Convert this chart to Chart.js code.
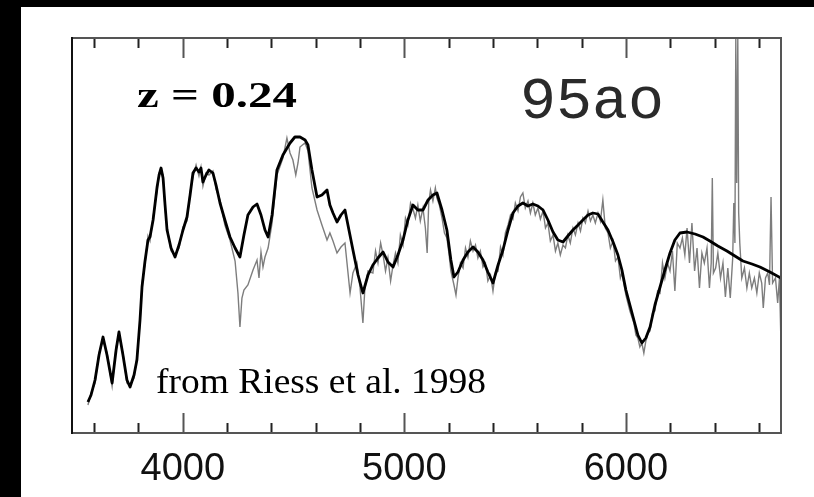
<!DOCTYPE html>
<html><head><meta charset="utf-8">
<script src="https://cdn.jsdelivr.net/npm/chart.js@4.4.1/dist/chart.umd.min.js"></script>
<style>html,body{margin:0;padding:0;background:#000;overflow:hidden}
#wrap{position:absolute;left:0;top:0;width:814px;height:497px}</style>
</head><body><div id="wrap"><canvas id="c" width="814" height="497"></canvas></div>
<script>
// Wavelength (Angstrom) and relative flux of the template (black) spectrum
const modelWave = [3572,3586,3604,3622,3640,3658,3681,3699,3712,3730,
3748,3762,3780,3793,3807,3816,3829,3843,3852,3866,
3884,3893,3902,3911,3920,3929,3947,3965,3983,4001,
4019,4033,4046,4060,4073,4082,4091,4105,4118,4136,
4150,4168,4190,4213,4236,4258,4276,4294,4317,4335,
4353,4371,4385,4403,4425,4452,4484,4506,4529,4552,
4565,4583,4606,4628,4651,4664,4678,4696,4714,4732,
4750,4768,4791,4813,4836,4858,4881,4904,4926,4949,
4971,4994,5016,5039,5061,5084,5107,5129,5147,5170,
5192,5210,5224,5242,5265,5287,5310,5332,5355,5377,
5400,5423,5445,5468,5490,5513,5535,5558,5580,5603,
5626,5648,5671,5693,5716,5738,5761,5784,5806,5829,
5851,5874,5896,5919,5942,5964,5982,6000,6018,6036,
6054,6072,6090,6109,6131,6154,6176,6199,6221,6244,
6276,6312,6348,6379,6415,6456,6492,6528,6569,6605,
6650,6700];
const modelFlux = [0.31,0.38,0.53,0.78,0.96,0.78,0.50,0.83,1.01,0.78,
0.53,0.46,0.58,0.73,1.13,1.46,1.71,1.93,1.96,2.13,
2.46,2.58,2.65,2.55,2.28,2.03,1.85,1.76,1.88,2.03,
2.16,2.38,2.60,2.65,2.61,2.65,2.51,2.58,2.63,2.60,
2.48,2.30,2.13,1.96,1.85,1.76,1.98,2.18,2.26,2.29,
2.18,2.03,1.96,2.18,2.63,2.78,2.90,2.96,2.96,2.93,
2.88,2.63,2.36,2.38,2.43,2.28,2.20,2.11,2.18,2.23,
2.03,1.83,1.58,1.40,1.58,1.68,1.75,1.81,1.71,1.66,
1.78,1.93,2.13,2.28,2.23,2.23,2.33,2.38,2.40,2.23,
2.03,1.73,1.56,1.61,1.73,1.81,1.86,1.81,1.73,1.61,
1.50,1.68,1.83,2.03,2.20,2.27,2.30,2.27,2.29,2.27,
2.23,2.13,2.01,1.93,1.91,1.97,2.03,2.08,2.13,2.18,
2.20,2.19,2.11,2.03,1.91,1.78,1.63,1.43,1.28,1.13,
0.98,0.90,0.95,1.06,1.28,1.46,1.63,1.80,1.93,2.00,
2.01,1.99,1.96,1.92,1.87,1.82,1.77,1.72,1.69,1.66,
1.61,1.55];

// Wavelength and relative flux of the observed (grey, noisy) spectrum of SN 1995ao
const obsWave = [3572,3586,3604,3622,3640,3658,3681,3699,3712,3730,
3748,3762,3780,3793,3807,3816,3829,3843,3852,3866,
3884,3893,3902,3911,3920,3929,3947,3965,3983,4001,
4019,4033,4046,4060,4073,4082,4091,4105,4118,4136,
4150,4168,4190,4213,4236,4249,4258,4267,4276,4294,
4317,4335,4344,4353,4362,4371,4385,4403,4425,4452,
4470,4484,4497,4510,4520,4529,4540,4552,4565,4583,
4606,4628,4651,4664,4678,4696,4714,4732,4755,4768,
4786,4800,4813,4822,4836,4858,4870,4881,4893,4904,
4915,4926,4938,4949,4960,4971,4982,4994,5005,5016,
5028,5039,5050,5061,5072,5084,5095,5103,5110,5118,
5129,5140,5147,5158,5170,5181,5192,5201,5210,5224,
5233,5242,5253,5265,5276,5287,5298,5310,5321,5332,
5343,5355,5366,5377,5389,5400,5411,5423,5434,5445,
5456,5468,5479,5490,5501,5513,5524,5535,5546,5558,
5569,5580,5591,5603,5614,5626,5637,5648,5659,5671,
5682,5693,5704,5716,5727,5738,5749,5761,5772,5784,
5795,5806,5817,5829,5840,5851,5862,5874,5885,5896,
5907,5919,5930,5942,5953,5964,5975,5982,6000,6018,
6036,6045,6054,6063,6072,6081,6090,6100,6109,6120,
6131,6143,6154,6165,6176,6188,6199,6210,6221,6232,
6244,6255,6266,6276,6287,6298,6310,6321,6332,6343,
6354,6366,6377,6385,6390,6395,6405,6415,6427,6438,
6449,6460,6471,6482,6487,6492,6496,6500,6505,6509,
6514,6523,6535,6546,6557,6568,6580,6591,6602,6613,
6620,6630,6640,6648,6655,6662,6675,6685,6693,6700];
const obsFlux = [0.28,0.40,0.50,0.80,0.93,0.80,0.47,0.86,0.98,0.80,
0.50,0.48,0.55,0.76,1.10,1.50,1.68,1.97,1.92,2.16,
2.42,2.60,2.62,2.58,2.25,2.06,1.82,1.78,1.85,2.06,
2.12,2.41,2.56,2.68,2.57,2.66,2.47,2.60,2.58,2.62,
2.44,2.33,2.08,1.93,1.72,1.40,1.06,1.35,1.43,1.48,
1.63,1.73,1.55,1.81,1.66,1.76,1.85,2.10,2.58,2.75,
2.95,2.80,2.73,2.58,2.70,2.86,2.88,2.90,2.82,2.45,
2.23,2.08,1.93,2.00,1.92,1.80,1.86,1.90,1.40,1.60,
1.70,1.45,1.10,1.45,1.62,1.60,1.82,1.70,1.90,1.78,
1.62,1.75,1.52,1.68,1.80,1.70,1.98,1.88,2.15,2.08,
2.30,2.24,2.15,2.28,2.12,2.25,2.05,1.80,2.30,2.43,
2.32,2.45,2.35,2.28,2.15,2.00,1.95,1.80,1.62,1.48,
1.38,1.55,1.70,1.65,1.85,1.76,1.92,1.82,1.88,1.75,
1.82,1.66,1.70,1.52,1.58,1.42,1.60,1.62,1.86,1.78,
2.00,2.08,2.18,2.14,2.30,2.22,2.36,2.40,2.25,2.32,
2.20,2.30,2.18,2.25,2.14,2.22,2.05,2.10,1.92,1.98,
1.82,1.90,1.78,1.88,1.85,1.98,1.90,2.05,1.98,2.10,
2.02,2.15,2.10,2.22,2.12,2.18,2.10,2.20,2.12,2.33,
2.05,2.00,1.85,1.92,1.72,1.76,1.55,1.60,1.38,1.22,
1.10,0.98,0.95,0.86,0.90,0.80,0.92,1.00,1.02,1.20,
1.22,1.42,1.40,1.70,1.55,1.70,1.62,1.82,1.42,1.90,
1.85,1.95,1.78,2.05,1.70,2.10,1.62,1.85,1.45,1.80,
1.70,1.85,1.45,1.70,2.55,1.60,1.65,1.80,1.55,1.70,
1.36,1.65,1.35,1.75,2.30,1.90,3.95,2.50,3.95,2.20,
1.90,1.55,1.65,1.45,1.60,1.45,1.55,1.40,1.60,1.50,
1.25,1.55,1.60,1.48,2.36,1.50,1.55,1.30,1.55,0.88];

// Axis ticks (every 200 A) and the labelled major ticks
const tickValues = [3600,3800,4000,4200,4400,4600,4800,5000,5200,5400,5600,5800,6000,6200,6400,6600];
const tickLabels = ['4000','5000','6000'];
const waveMin = 3500, waveMax = 6700;
const fluxMin = 0, fluxMax = 3.95;

const redshiftLabel = 'z = 0.24';
const snName = '95ao';
const sourceLabel = 'from Riess et al. 1998';

const toPoints = (xs, ys) => xs.map((x, i) => ({x: x, y: ys[i]}));

const framePlugin = {
  id: 'frame',
  beforeDraw(chart) {
    const ctx = chart.ctx;
    ctx.save();
    ctx.fillStyle = '#000';
    ctx.fillRect(0, 0, chart.width, chart.height);
    ctx.fillStyle = '#fff';
    ctx.fillRect(21, 7, chart.width - 21, chart.height - 7);
    ctx.restore();
  },
  afterDraw(chart) {
    const ctx = chart.ctx;
    const a = chart.chartArea;
    const xs = chart.scales.x;
    ctx.save();
    // inward tick marks, top and bottom
    tickValues.forEach(v => {
      const px = Math.round(xs.getPixelForValue(v)) + 0.5;
      const major = tickLabels.includes(String(v));
      const len = major ? 20 : 10;
      ctx.lineWidth = 2;
      ctx.strokeStyle = major ? '#555' : '#222';
      ctx.beginPath();
      ctx.moveTo(px, a.bottom); ctx.lineTo(px, a.bottom - len);
      ctx.moveTo(px, a.top); ctx.lineTo(px, a.top + len);
      ctx.stroke();
    });
    // frame
    ctx.lineWidth = 2;
    ctx.strokeStyle = '#555';
    ctx.beginPath();
    ctx.moveTo(a.left, a.top); ctx.lineTo(a.right, a.top);
    ctx.lineTo(a.right, a.bottom); ctx.lineTo(a.left, a.bottom);
    ctx.stroke();
    ctx.strokeStyle = '#111';
    ctx.beginPath();
    ctx.moveTo(a.left, a.top - 1); ctx.lineTo(a.left, a.bottom + 1);
    ctx.stroke();

    // annotations
    const drawStretched = (text, font, left, baseline, width, color) => {
      ctx.font = font;
      ctx.fillStyle = color;
      ctx.textBaseline = 'alphabetic';
      ctx.textAlign = 'left';
      const w = ctx.measureText(text).width;
      ctx.save();
      ctx.translate(left, baseline);
      ctx.scale(width / w, 1);
      ctx.fillText(text, 0, 0);
      ctx.restore();
    };
    drawStretched(redshiftLabel, 'bold 36px "Liberation Serif"', 137, 107, 160, '#000');
    drawStretched(snName, '60px "Liberation Mono"', 520, 118, 144, '#2a2a2a');
    drawStretched(sourceLabel, '36px "Liberation Serif"', 156, 393, 330, '#000');
    ctx.restore();
  }
};

new Chart(document.getElementById('c'), {
  type: 'line',
  data: {
    datasets: [
      {
        label: 'template',
        data: toPoints(modelWave, modelFlux),
        borderColor: '#000',
        borderWidth: 2.8,
        pointRadius: 0,
        tension: 0,
        borderJoinStyle: 'round',
        order: 0
      },
      {
        label: 'SN 1995ao',
        data: toPoints(obsWave, obsFlux),
        borderColor: '#7d7d7d',
        borderWidth: 1.4,
        pointRadius: 0,
        tension: 0,
        order: 1
      }
    ]
  },
  options: {
    responsive: false,
    animation: false,
    devicePixelRatio: 1,
    layout: {padding: {left: 72, right: 33, top: 38, bottom: 0}},
    plugins: {legend: {display: false}, tooltip: {enabled: false}},
    scales: {
      x: {
        type: 'linear', min: waveMin, max: waveMax, position: 'bottom',
        afterBuildTicks: s => { s.ticks = tickValues.map(v => ({value: v})); },
        afterFit: s => { s.height = 64; },
        grid: {display: false, drawTicks: false},
        border: {display: false},
        ticks: {
          autoSkip: false, maxRotation: 0, minRotation: 0, padding: 14,
          color: '#111',
          font: {family: '"Liberation Sans"', size: 38},
          callback: v => tickLabels.includes(String(v)) ? String(v) : ''
        }
      },
      y: {display: false, min: fluxMin, max: fluxMax}
    }
  },
  plugins: [framePlugin]
});
</script>
</body></html>
